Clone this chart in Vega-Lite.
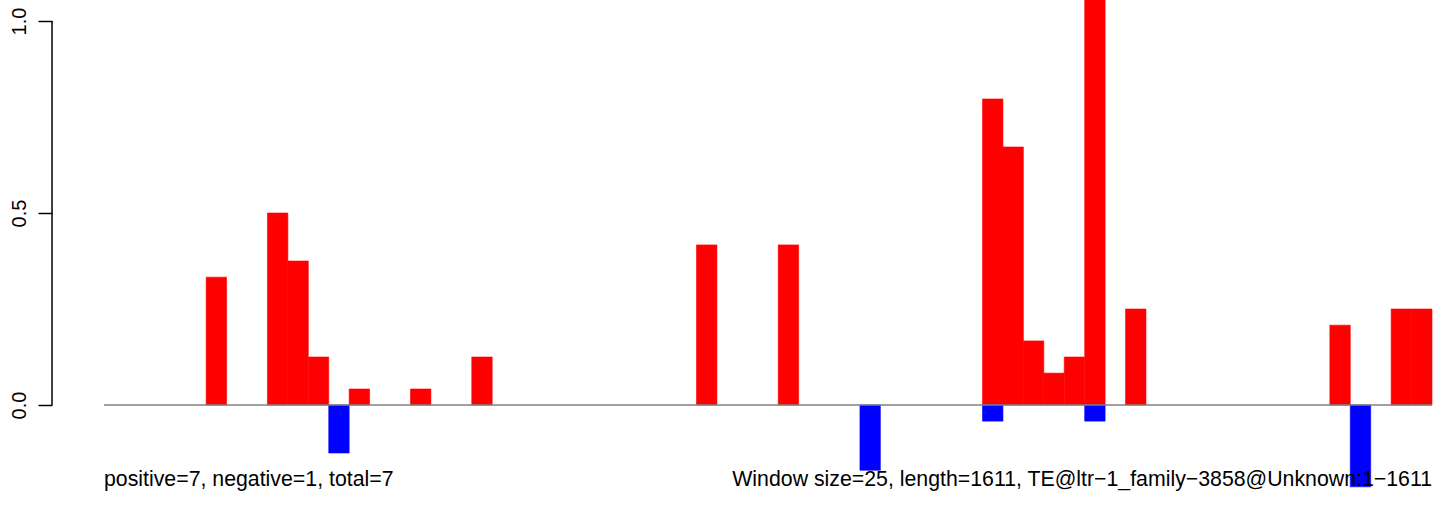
{
  "$schema": "https://vega.github.io/schema/vega-lite/v6.json",
  "width": 1392,
  "height": 508,
  "autosize": {"type": "none"},
  "padding": {"left": 52, "top": 0, "right": 0, "bottom": 0},
  "background": "white",
  "config": {"view": {"stroke": null}, "font": "Liberation Sans"},
  "datasets": {
    "bars": [
      {"start": 125, "end": 150, "value": 0.333, "strand": "positive"},
      {"start": 200, "end": 225, "value": 0.5, "strand": "positive"},
      {"start": 225, "end": 250, "value": 0.375, "strand": "positive"},
      {"start": 250, "end": 275, "value": 0.125, "strand": "positive"},
      {"start": 300, "end": 325, "value": 0.0417, "strand": "positive"},
      {"start": 375, "end": 400, "value": 0.0417, "strand": "positive"},
      {"start": 450, "end": 475, "value": 0.125, "strand": "positive"},
      {"start": 725, "end": 750, "value": 0.417, "strand": "positive"},
      {"start": 825, "end": 850, "value": 0.417, "strand": "positive"},
      {"start": 1075, "end": 1100, "value": 0.797, "strand": "positive"},
      {"start": 1100, "end": 1125, "value": 0.672, "strand": "positive"},
      {"start": 1125, "end": 1150, "value": 0.167, "strand": "positive"},
      {"start": 1150, "end": 1175, "value": 0.083, "strand": "positive"},
      {"start": 1175, "end": 1200, "value": 0.125, "strand": "positive"},
      {"start": 1200, "end": 1225, "value": 1.3, "strand": "positive"},
      {"start": 1250, "end": 1275, "value": 0.25, "strand": "positive"},
      {"start": 1500, "end": 1525, "value": 0.208, "strand": "positive"},
      {"start": 1575, "end": 1600, "value": 0.25, "strand": "positive"},
      {"start": 1600, "end": 1625, "value": 0.25, "strand": "positive"},
      {"start": 275, "end": 300, "value": -0.125, "strand": "negative"},
      {"start": 925, "end": 950, "value": -0.17, "strand": "negative"},
      {"start": 1075, "end": 1100, "value": -0.042, "strand": "negative"},
      {"start": 1200, "end": 1225, "value": -0.042, "strand": "negative"},
      {"start": 1525, "end": 1550, "value": -0.213, "strand": "negative"}
    ],
    "zero": [{"from": 0, "to": 1625, "y": 0}],
    "axisline": [{"x": -63.6, "lo": 0, "hi": 1}],
    "leftText": [{"x": 0, "y": -0.2115, "label": "positive=7, negative=1, total=7"}],
    "rightText": [{"x": 1625, "y": -0.2115, "label": "Window size=25, length=1611, TE@ltr−1_family−3858@Unknown:1−1611"}]
  },
  "layer": [
    {
      "data": {"name": "bars"},
      "mark": {"type": "rect", "clip": true, "strokeWidth": 0.6},
      "encoding": {
        "x": {"field": "start", "type": "quantitative", "scale": {"domain": [-63.63, 1639.68], "nice": false, "zero": false}, "axis": null},
        "x2": {"field": "end"},
        "y": {
          "field": "value", "type": "quantitative",
          "scale": {"domain": [-0.2682, 1.0547], "nice": false, "zero": false},
          "axis": {"values": [0, 0.5, 1], "format": ".1f", "labelAngle": -90, "tickSize": 14, "tickColor": "black", "tickWidth": 1.5, "domain": false, "grid": false, "title": null, "labelFontSize": 20, "labelColor": "black", "labelPadding": 9, "labelFont": "Liberation Sans"}
        },
        "y2": {"datum": 0},
        "color": {"field": "strand", "type": "nominal", "scale": {"domain": ["positive", "negative"], "range": ["#FF0000", "#0000FF"]}, "legend": null},
        "stroke": {"field": "strand", "type": "nominal", "scale": {"domain": ["positive", "negative"], "range": ["#FF0000", "#0000FF"]}, "legend": null}
      }
    },
    {
      "data": {"name": "zero"},
      "mark": {"type": "rule", "color": "#808080", "strokeWidth": 1.5},
      "encoding": {
        "x": {"field": "from", "type": "quantitative"},
        "x2": {"field": "to"},
        "y": {"field": "y", "type": "quantitative"}
      }
    },
    {
      "data": {"name": "axisline"},
      "mark": {"type": "rule", "color": "black", "strokeWidth": 1.5},
      "encoding": {
        "x": {"field": "x", "type": "quantitative"},
        "y": {"field": "lo", "type": "quantitative"},
        "y2": {"field": "hi"}
      }
    },
    {
      "data": {"name": "leftText"},
      "mark": {"type": "text", "align": "left", "baseline": "alphabetic", "fontSize": 21.3, "color": "black", "font": "Liberation Sans"},
      "encoding": {
        "x": {"field": "x", "type": "quantitative"},
        "y": {"field": "y", "type": "quantitative"},
        "text": {"field": "label"}
      }
    },
    {
      "data": {"name": "rightText"},
      "mark": {"type": "text", "align": "right", "baseline": "alphabetic", "fontSize": 21.3, "color": "black", "font": "Liberation Sans"},
      "encoding": {
        "x": {"field": "x", "type": "quantitative"},
        "y": {"field": "y", "type": "quantitative"},
        "text": {"field": "label"}
      }
    }
  ]
}
